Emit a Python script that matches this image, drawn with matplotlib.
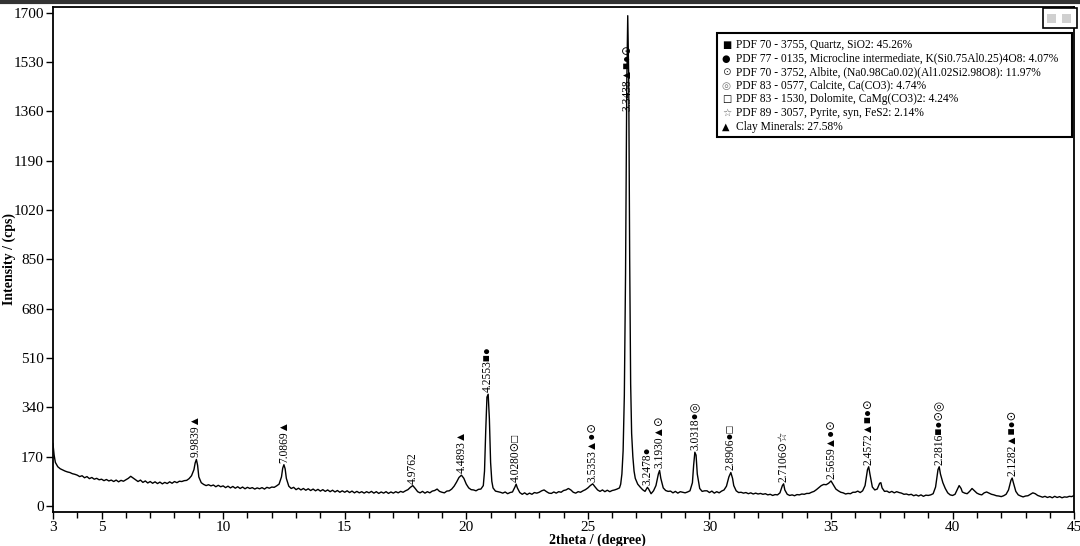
import matplotlib
matplotlib.use('Agg')
import matplotlib.pyplot as plt
from matplotlib.lines import Line2D
from matplotlib.patches import Rectangle
from matplotlib.ticker import MultipleLocator, FixedLocator

SERIF = ['Liberation Serif', 'DejaVu Sans']
SYM = ['DejaVu Sans']

# XRD trace (2theta in degree, intensity in cps)
two_theta = [
    3.0, 3.05, 3.1, 3.2, 3.3, 3.4, 3.5, 3.6, 3.7, 3.8, 3.9,
    4.0, 4.1, 4.2, 4.3, 4.4, 4.5, 4.6, 4.7, 4.8, 4.9,
    5.0, 5.1, 5.2, 5.3, 5.4, 5.5, 5.6, 5.7, 5.8, 5.9,
    6.0, 6.1, 6.2, 6.3, 6.4, 6.5, 6.6, 6.7, 6.8, 6.9,
    7.0, 7.1, 7.2, 7.3, 7.4, 7.5, 7.6, 7.7, 7.8, 7.9,
    8.0, 8.1, 8.2, 8.3, 8.4, 8.5, 8.6, 8.7, 8.8, 8.85, 8.9, 8.95, 9.0, 9.1, 9.2, 9.3, 9.4, 9.5, 9.6, 9.7, 9.8, 9.9,
    10.0, 10.1, 10.2, 10.3, 10.4, 10.5, 10.6, 10.7, 10.8, 10.9,
    11.0, 11.1, 11.2, 11.3, 11.4, 11.5, 11.6, 11.7, 11.8, 11.9,
    12.0, 12.1, 12.2, 12.3, 12.4, 12.45, 12.5, 12.55, 12.6, 12.7, 12.8, 12.9,
    13.0, 13.1, 13.2, 13.3, 13.4, 13.5, 13.6, 13.7, 13.8, 13.9,
    14.0, 14.1, 14.2, 14.3, 14.4, 14.5, 14.6, 14.7, 14.8, 14.9,
    15.0, 15.1, 15.2, 15.3, 15.4, 15.5, 15.6, 15.7, 15.8, 15.9,
    16.0, 16.1, 16.2, 16.3, 16.4, 16.5, 16.6, 16.7, 16.8, 16.9,
    17.0, 17.1, 17.2, 17.3, 17.4, 17.5, 17.6, 17.7, 17.8, 17.9,
    18.0, 18.1, 18.2, 18.3, 18.4, 18.5, 18.6, 18.7, 18.8, 18.9,
    19.0, 19.1, 19.2, 19.3, 19.4, 19.5, 19.6, 19.7, 19.8, 19.9,
    20.0, 20.1, 20.2, 20.3, 20.4, 20.5, 20.6, 20.7, 20.75, 20.8, 20.85, 20.9, 20.95, 21.0, 21.05, 21.1,
    21.2, 21.3, 21.4, 21.5, 21.6, 21.7, 21.8, 21.9, 22.0, 22.05, 22.1, 22.2,
    22.3, 22.4, 22.5, 22.6, 22.7, 22.8, 22.9, 23.0, 23.1, 23.2, 23.3, 23.4, 23.5, 23.6, 23.7, 23.8, 23.9,
    24.0, 24.1, 24.2, 24.3, 24.4, 24.5, 24.6, 24.7, 24.8, 24.9,
    25.0, 25.1, 25.2, 25.3, 25.4, 25.5, 25.6, 25.7, 25.8, 25.9,
    26.0, 26.1, 26.2, 26.3, 26.35, 26.4, 26.45, 26.5, 26.55, 26.6, 26.64, 26.68, 26.72, 26.76, 26.8,
    26.85, 26.9, 26.95, 27.05,
    27.15, 27.25, 27.35, 27.45, 27.5, 27.6, 27.7, 27.8, 27.9, 27.95, 28.0, 28.1, 28.2, 28.3, 28.4, 28.5,
    28.6, 28.7, 28.8, 28.9, 29.0, 29.1, 29.2, 29.3, 29.35, 29.4, 29.45, 29.5, 29.6, 29.7, 29.8, 29.9,
    30.0, 30.1, 30.2, 30.3, 30.4, 30.5, 30.6, 30.7, 30.8, 30.88, 30.95, 31.0, 31.1, 31.2, 31.3, 31.4,
    31.5, 31.6, 31.7, 31.8, 31.9,
    32.0, 32.1, 32.2, 32.3, 32.4, 32.5, 32.6, 32.7, 32.8, 32.9, 33.0, 33.05, 33.1, 33.2, 33.3, 33.4,
    33.5, 33.6, 33.7, 33.8, 33.9,
    34.0, 34.1, 34.2, 34.3, 34.4, 34.5, 34.6, 34.7, 34.8, 34.9, 35.0, 35.1, 35.2, 35.3, 35.4, 35.5,
    35.6, 35.7, 35.8, 35.9,
    36.0, 36.1, 36.2, 36.3, 36.4, 36.5, 36.55, 36.6, 36.7, 36.8, 36.9, 37.0, 37.05, 37.1, 37.2, 37.3,
    37.4, 37.5, 37.6, 37.7, 37.8, 37.9,
    38.0, 38.1, 38.2, 38.3, 38.4, 38.5, 38.6, 38.7, 38.8, 38.9, 39.0, 39.1, 39.2, 39.3, 39.4, 39.45,
    39.5, 39.6, 39.7, 39.8, 39.9,
    40.0, 40.1, 40.2, 40.27, 40.35, 40.4, 40.5, 40.6, 40.7, 40.8, 40.9, 41.0, 41.1, 41.2, 41.3, 41.4,
    41.5, 41.6, 41.7, 41.8, 41.9,
    42.0, 42.1, 42.2, 42.3, 42.4, 42.45, 42.5, 42.6, 42.7, 42.8, 42.9, 43.0, 43.1, 43.2, 43.3, 43.4,
    43.5, 43.6, 43.7, 43.8, 43.9,
    44.0, 44.1, 44.2, 44.3, 44.4, 44.5, 44.6, 44.7, 44.8, 44.9, 45.0,
]
intensity = [
    215, 175, 150, 135, 128, 124, 120, 117, 115, 111, 109,
    106, 101, 104, 97, 101, 94, 98, 92, 95, 90,
    92, 87, 91, 86, 89, 84, 89, 83, 88, 85,
    90, 95, 102, 96, 90, 84, 89, 81, 86, 79,
    84, 78, 83, 77, 82, 76, 81, 77, 83, 78,
    84, 80, 85, 84, 87, 88, 94, 104, 125, 148, 160, 140, 100, 80, 74, 70, 73, 69, 72, 66, 71, 66,
    69, 63, 68, 62, 67, 61, 66, 60, 65, 59,
    64, 60, 63, 58, 62, 59, 63, 58, 64, 61,
    65, 64, 69, 75, 100, 130, 142, 128, 95, 68, 60, 64,
    56, 61, 55, 60, 54, 59, 53, 58, 52, 57,
    51, 56, 50, 55, 49, 54, 48, 53, 47, 52,
    47, 52, 46, 51, 45, 50, 45, 49, 44, 49,
    45, 50, 44, 49, 43, 48, 44, 49, 43, 48,
    44, 49, 45, 50, 47, 52, 56, 64, 70, 60,
    49, 45, 50, 44, 49, 45, 51, 53, 58, 50,
    47, 45, 51, 52, 58, 68, 82, 98, 106, 95,
    75, 62, 56, 55, 52, 57, 58, 70, 120, 260, 375, 385, 300, 150, 85, 62,
    51, 49, 47, 44, 48, 42, 46, 48, 65, 75, 62, 46,
    40, 45, 39, 44, 40, 46, 44, 47, 52, 55, 49, 44, 43, 48, 44, 49, 47,
    53, 55, 60, 55, 47, 44, 49, 47, 52, 56,
    62, 70, 76, 65, 55, 50, 55, 49, 54, 49,
    53, 55, 58, 62, 75, 110, 190, 380, 800, 1450, 1690, 1480, 850, 420, 250,
    170, 120, 95, 75,
    65, 56, 50, 64, 58, 42, 52, 70, 110, 122, 95, 62, 53, 50, 51, 45,
    50, 44, 49, 47, 45, 48, 52, 80, 140, 185, 175, 110, 60, 50, 52, 52,
    46, 51, 44, 49, 45, 51, 55, 68, 100, 115, 95, 70, 52, 46, 47, 44,
    46, 42, 45, 41, 44,
    41, 43, 40, 42, 38, 40, 36, 39, 38, 45, 70, 76, 55, 40, 36, 38,
    35, 39, 38, 41, 40,
    43, 43, 47, 50, 56, 63, 70, 74, 73, 78, 86, 72, 58, 52, 47, 45,
    41, 43, 42, 47,
    47, 51, 46, 52, 70, 125, 135, 110, 65, 55, 58, 78, 80, 62, 50, 51,
    46, 50, 45, 49, 46, 44,
    40, 41, 38, 40, 35, 38, 34, 38, 33, 37, 36, 38, 42, 65, 125, 135,
    110, 80, 60, 45, 38,
    36, 40, 58, 70, 60, 48, 44, 42, 50, 60, 52, 44, 40, 38, 45, 48,
    44, 40, 38, 35, 34,
    32, 35, 40, 55, 88, 96, 80, 50, 38, 34, 31, 34, 35, 40, 45, 42,
    36, 33, 30, 33, 29,
    32, 28, 33, 29, 32, 28, 31, 30, 33, 32, 36,
]

# labelled reflections: position, d-spacing, phase symbols
peak_pos = [8.88, 12.5, 17.8, 19.8, 20.9, 22.05, 25.2, 26.64, 27.45, 27.95,
            29.4, 30.88, 33.05, 35.0, 36.55, 39.45, 42.45]
peak_d = ['9.9839', '7.0869', '4.9762', '4.4893', '4.2553', '4.0280', '3.5353',
          '3.3438', '3.2478', '3.1930', '3.0318', '2.8906', '2.7106', '2.5659',
          '2.4572', '2.2816', '2.1282']
peak_phases = ['▲', '▲', '', '▲', '■●', '⊙□', '▲●⊙', '▲■●⊙', '●', '▲⊙',
               '●◎', '●□', '⊙☆', '▲●⊙', '▲■●⊙', '■●⊙◎', '▲■●⊙']

legend_symbols = ['■', '●', '⊙', '◎', '□', '☆', '▲']
legend_texts = [
    'PDF 70 - 3755, Quartz, SiO2: 45.26%',
    'PDF 77 - 0135, Microcline intermediate, K(Si0.75Al0.25)4O8: 4.07%',
    'PDF 70 - 3752, Albite, (Na0.98Ca0.02)(Al1.02Si2.98O8): 11.97%',
    'PDF 83 - 0577, Calcite, Ca(CO3): 4.74%',
    'PDF 83 - 1530, Dolomite, CaMg(CO3)2: 4.24%',
    'PDF 89 - 3057, Pyrite, syn, FeS2: 2.14%',
    'Clay Minerals: 27.58%',
]
GRAY = {'⊙': '#333333', '◎': '#777777', '☆': '#666666'}

fig = plt.figure(figsize=(10.8, 5.46), dpi=100)
ax = fig.add_axes([0.049, 0.0623, 0.9456, 0.9249])
ax.plot(two_theta, intensity, color='black', lw=1.0)

ax.set_xlim(3, 45)
ax.set_ylim(-21, 1720)
ax.xaxis.set_major_locator(FixedLocator([3, 5, 10, 15, 20, 25, 30, 35, 40, 45]))
ax.xaxis.set_minor_locator(MultipleLocator(1))
ax.yaxis.set_major_locator(FixedLocator(list(range(0, 1701, 170))))
ax.tick_params(which='major', direction='out', length=5, width=1, labelsize=11, pad=1.5)
ax.tick_params(which='minor', direction='out', length=4, width=1)
for lab in ax.get_xticklabels() + ax.get_yticklabels():
    lab.set_family(SERIF)
for sp in ax.spines.values():
    sp.set_linewidth(1.3)

ax.set_xlabel('2theta / (degree)', family=SERIF, fontweight='bold', fontsize=10)
ax.xaxis.set_label_coords(0.533, -0.043)
ax.set_ylabel('Intensity / (cps)', family=SERIF, fontweight='bold', fontsize=10)
ax.yaxis.set_label_coords(-0.036, 0.5)

# peak labels, rotated, number then phase symbols
for pos, d, phases in zip(peak_pos, peak_d, peak_phases):
    top = max(v for t, v in zip(two_theta, intensity) if abs(t - pos) <= 0.1)
    if top > 1400:
        top = 1355
    ax.annotate(d + phases, xy=(pos, top), xytext=(0, 1.5), textcoords='offset points',
                rotation=90, ha='center', va='bottom', fontsize=8.3, family=SERIF)

# legend box
ax.add_patch(Rectangle((0.650, 0.743), 0.348, 0.206, transform=ax.transAxes,
                       facecolor='white', edgecolor='black', lw=1.5, zorder=5))
for i, (s, txt) in enumerate(zip(legend_symbols, legend_texts)):
    yy = (512 - (45 + i * 13.6)) / 505
    ax.text(0.655, yy, s, transform=ax.transAxes, va='center', ha='left',
            fontsize=7.5 if s in GRAY else 7, color=GRAY.get(s, 'black'),
            family=SYM, zorder=6)
    ax.text(0.6685, yy, txt, transform=ax.transAxes, va='center', ha='left',
            fontsize=8.3, family=SERIF, zorder=6)

# window frame line on top and the small toolbar box in the corner
fig.add_artist(Line2D([0, 1], [0.996, 0.996], transform=fig.transFigure,
                      color='#333333', lw=3))
fig.add_artist(Rectangle((0.966, 0.948), 0.031, 0.037, transform=fig.transFigure,
                         facecolor='white', edgecolor='black', lw=1.2))
fig.add_artist(Rectangle((0.969, 0.958), 0.009, 0.016, transform=fig.transFigure,
                         facecolor='#d0d0d0', edgecolor='none'))
fig.add_artist(Rectangle((0.983, 0.958), 0.009, 0.016, transform=fig.transFigure,
                         facecolor='#d0d0d0', edgecolor='none'))

fig.savefig('out.png', dpi=100, facecolor='white')
